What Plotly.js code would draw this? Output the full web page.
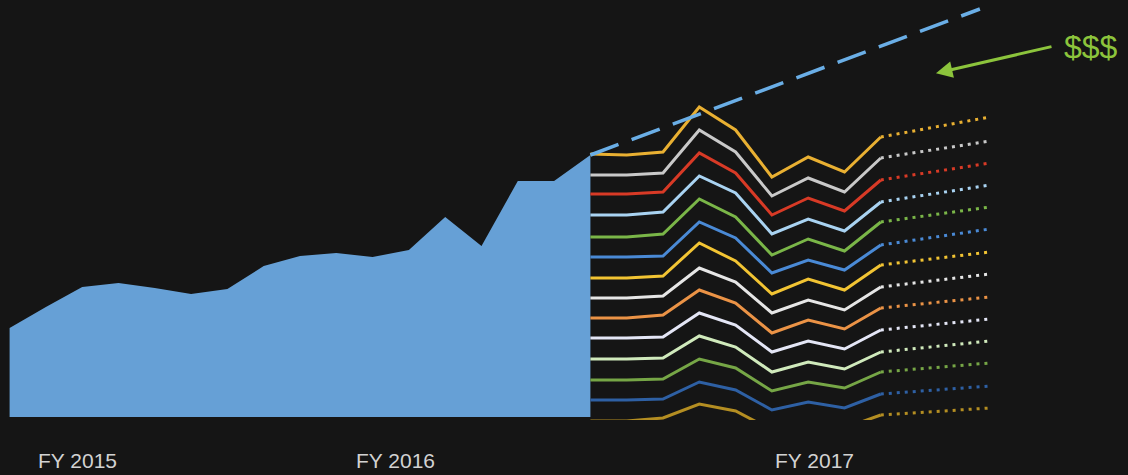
<!DOCTYPE html>
<html>
<head>
<meta charset="utf-8">
<script src="https://cdn.plot.ly/plotly-3.0.1.min.js"></script>
<style>
html,body{margin:0;padding:0;background:#151515;overflow:hidden;}
#chart{width:1128px;height:475px;}
</style>
</head>
<body>
<div id="chart"></div>
<script>
// ---- data ----
const histMonths = [0,1,2,3,4,5,6,7,8,9,10,11,12,13,14,15,16];
const histRevenue = [89,110,130,134,129,123,128,151,161,164,160,167,200,171,236,236,262];

const planMonths = [16,17,18,19,20,21,22,23,24];
const projMonths = [24,27];

const planGold     = [263,262,265,310,287,240,260,245,280];
const planGray     = [242,242,244,287,265,221,239,225,259];
const planRed      = [223,223,225,264,244,202,219,206,237];
const planSky      = [202,202,205,241,224,183,198,186,215];
const planGreen    = [180,180,183,218,200,162,178,166,195];
const planBlue     = [160,160,161,195,179,144,157,147,172];
const planYellow   = [139,139,141,174,156,123,138,127,152];
const planWhite    = [119,119,121,149,135,104,117,107,130];
const planOrange   = [99,99,102,127,114,84,97,88,109];
const planLavender = [79,79,80,104,92,65,76,68,87];
const planMint     = [58,58,59,81,70,45,55,48,65];
const planOlive    = [37,37,38,58,49,26,35,29,45];
const planNavy     = [17,17,18,35,27,7,15,9,23];
const planOchre    = [-4,-4,-1,13,6,-13,-5,-11,2];

const projEnd = [300,276,254,232,210,188,165,143,120,98,76,54,31,9];

const targetMonths = [16,26.73];
const targetValues = [262,408];

const fyLabels = ['FY 2015','FY 2016','FY 2017'];
const arrowLabel = '$$$';

// ---- styles ----
const planSeries = [planGold,planGray,planRed,planSky,planGreen,planBlue,planYellow,
                    planWhite,planOrange,planLavender,planMint,planOlive,planNavy,planOchre];
const planColors = ['#e9b032','#c9c9c9','#d83a26','#a9d3f2','#7ab648','#4a8ad6','#f2c433',
                    '#e6e6e6','#eb9346','#e4e6f6','#d0eabc','#76a646','#2e60a4','#b48e22'];

const traces = [];
traces.push({
  x: histMonths, y: histRevenue, type: 'scatter', mode: 'lines',
  fill: 'tozeroy', fillcolor: '#66a0d6', line: {width: 0, color: '#66a0d6'},
  hoverinfo: 'skip'
});
planSeries.forEach((s, k) => {
  traces.push({
    x: planMonths, y: s, type: 'scatter', mode: 'lines',
    line: {color: planColors[k], width: 3}, hoverinfo: 'skip'
  });
  traces.push({
    x: projMonths, y: [s[s.length - 1], projEnd[k]], type: 'scatter', mode: 'lines',
    line: {color: planColors[k], width: 3, dash: '3px,5px'}, hoverinfo: 'skip'
  });
});
traces.push({
  x: targetMonths, y: targetValues, type: 'scatter', mode: 'lines',
  line: {color: '#6aaee6', width: 3.5, dash: '30px,14px'}, hoverinfo: 'skip'
});

const labelPos = [1.88, 10.64, 22.16];
const annotations = fyLabels.map((t, i) => ({
  x: labelPos[i], xref: 'x', y: -0.0965, yref: 'paper',
  text: t, showarrow: false, xanchor: 'center', yanchor: 'middle',
  font: {family: 'Liberation Sans, Arial, sans-serif', size: 21, color: '#d2d2d2'}
}));
annotations.push({
  x: 25.52, y: 343.7, xref: 'x', yref: 'y', text: '',
  showarrow: true, ax: 117, ay: -27, arrowhead: 2, arrowsize: 1.1,
  arrowwidth: 3, arrowcolor: '#8cc43c'
});
annotations.push({
  x: 1091, y: 47, xref: 'x', yref: 'y', text: arrowLabel, showarrow: false,
  font: {family: 'Liberation Sans, Arial, sans-serif', size: 32, color: '#8cc43c'}
});
// fix $$$ position in data coords
annotations[annotations.length - 1].x = (1091 - 9.6) / 36.3;
annotations[annotations.length - 1].y = 417 - 47;

const layout = {
  width: 1128, height: 475,
  paper_bgcolor: '#151515', plot_bgcolor: '#151515',
  margin: {l: 0, r: 0, t: 0, b: 55, pad: 0},
  showlegend: false,
  xaxis: {range: [-0.2645, 30.81], visible: false, fixedrange: true},
  yaxis: {range: [-3, 417], visible: false, fixedrange: true},
  annotations: annotations
};

Plotly.newPlot('chart', traces, layout, {displayModeBar: false, staticPlot: true});
</script>
</body>
</html>
